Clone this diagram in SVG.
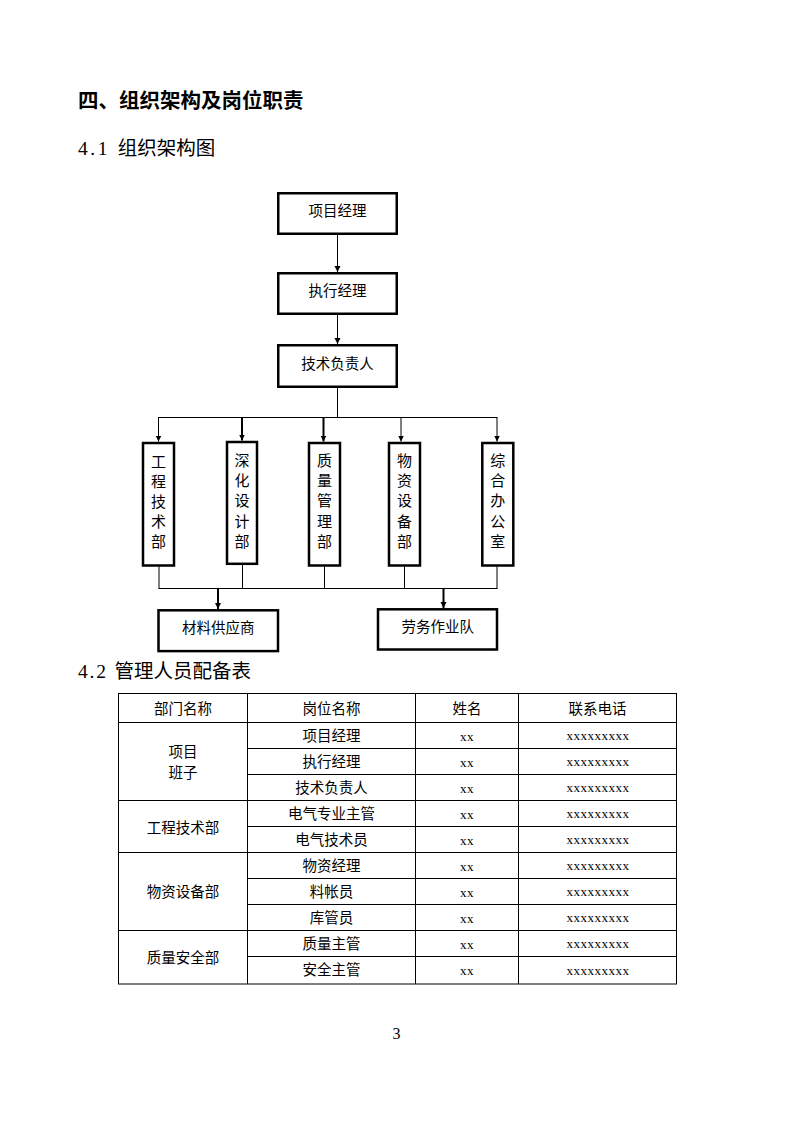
<svg xmlns="http://www.w3.org/2000/svg" width="794" height="1123" viewBox="0 0 794 1123">
<defs>
<marker id="ah" markerUnits="userSpaceOnUse" markerWidth="7" markerHeight="7" refX="6" refY="3" orient="auto">
<path d="M0,0 L6,3 L0,6 z" fill="#000"/>
</marker>
<style>
.cjk{font-family:"Noto Sans CJK SC","Noto Sans",sans-serif;fill:#000}
.h1{font-size:20.5px;font-weight:bold}
.h2{font-size:19.5px;font-family:"Liberation Serif","Noto Sans CJK SC",serif}
.box{fill:#fff;stroke:#000;stroke-width:2.5}
.nt{font-size:14.5px;text-anchor:middle}
.vt{font-size:15px;text-anchor:middle}
.ln{fill:none;stroke:#000;stroke-width:1}
.thk{stroke-width:2}
.tl{fill:none;stroke:#000;stroke-width:1}
.tt{font-size:14.5px;text-anchor:middle}
.xx{font-family:"Liberation Serif",serif;font-size:13px;letter-spacing:0.5px;text-anchor:middle;fill:#000}
.pg{font-family:"Liberation Serif",serif;font-size:16px;text-anchor:middle;fill:#000}
</style>
</defs>
<rect width="794" height="1123" fill="#fff"/>

<g id="headings">
<text class="cjk h1" x="78" y="107.5">四、组织架构及岗位职责</text>
<text class="cjk h2" x="78" y="155"><tspan letter-spacing="2.6">4.1 </tspan>组织架构图</text>
<text class="cjk h2" x="78" y="678"><tspan letter-spacing="1.8">4.2 </tspan>管理人员配备表</text>
</g>

<g id="connectors">
<path class="ln" d="M337.5,235 V272" marker-end="url(#ah)"/>
<path class="ln" d="M337.5,315 V344" marker-end="url(#ah)"/>
<path class="ln" d="M337.5,388 V417.5"/>
<path class="ln" d="M158,417.5 H497.5"/>
<path class="ln" d="M158.5,417.5 V441.5" marker-end="url(#ah)"/>
<path class="ln thk" d="M242,417.5 V440.5" marker-end="url(#ah)"/>
<path class="ln thk" d="M323.5,417.5 V441.5" marker-end="url(#ah)"/>
<path class="ln" d="M401,417.5 V441.5" marker-end="url(#ah)"/>
<path class="ln" d="M497,417.5 V441.5" marker-end="url(#ah)"/>
<path class="ln" d="M159,566.5 V588.5 M242.5,565 V588.5 M324.5,566.5 V588.5 M404.5,566.5 V588.5 M497,566.5 V588.5"/>
<path class="ln" d="M158.5,588.5 H497.5"/>
<path class="ln thk" d="M218,588.5 V609" marker-end="url(#ah)"/>
<path class="ln thk" d="M443.5,588.5 V608" marker-end="url(#ah)"/>
</g>

<g id="n-pm">
<rect class="box" x="278.25" y="193.25" width="118.5" height="40.5"/>
<text class="cjk nt" x="337.5" y="216">项目经理</text>
</g>
<g id="n-exec">
<rect class="box" x="278.25" y="273.25" width="118.5" height="40.5"/>
<text class="cjk nt" x="337.5" y="296">执行经理</text>
</g>
<g id="n-tech">
<rect class="box" x="278.25" y="345.25" width="118.5" height="41.5"/>
<text class="cjk nt" x="337.5" y="368.5">技术负责人</text>
</g>

<g id="n-eng">
<rect class="box" x="143" y="443" width="31" height="122.5"/>
<text class="cjk vt"><tspan x="158.5" y="466.5">工</tspan><tspan x="158.5" y="486.5">程</tspan><tspan x="158.5" y="506.5">技</tspan><tspan x="158.5" y="526.5">术</tspan><tspan x="158.5" y="546.5">部</tspan></text>
</g>
<g id="n-design">
<rect class="box" x="227" y="442" width="30" height="121.8"/>
<text class="cjk vt"><tspan x="242" y="465.5">深</tspan><tspan x="242" y="485.5">化</tspan><tspan x="242" y="505.5">设</tspan><tspan x="242" y="526.5">计</tspan><tspan x="242" y="546.5">部</tspan></text>
</g>
<g id="n-quality">
<rect class="box" x="309" y="443" width="31" height="122.5"/>
<text class="cjk vt"><tspan x="324.5" y="465.5">质</tspan><tspan x="324.5" y="486">量</tspan><tspan x="324.5" y="506">管</tspan><tspan x="324.5" y="526.5">理</tspan><tspan x="324.5" y="546.5">部</tspan></text>
</g>
<g id="n-material">
<rect class="box" x="389" y="443" width="31" height="122.5"/>
<text class="cjk vt"><tspan x="404.5" y="465.5">物</tspan><tspan x="404.5" y="486">资</tspan><tspan x="404.5" y="506">设</tspan><tspan x="404.5" y="526.5">备</tspan><tspan x="404.5" y="546.5">部</tspan></text>
</g>
<g id="n-office">
<rect class="box" x="482.3" y="443" width="31" height="122.5"/>
<text class="cjk vt"><tspan x="497.8" y="465.5">综</tspan><tspan x="497.8" y="486">合</tspan><tspan x="497.8" y="506">办</tspan><tspan x="497.8" y="526.5">公</tspan><tspan x="497.8" y="546.5">室</tspan></text>
</g>

<g id="n-supplier">
<rect class="box" x="158.5" y="610.3" width="119.5" height="40.8"/>
<text class="cjk nt" x="218.3" y="633">材料供应商</text>
</g>
<g id="n-labor">
<rect class="box" x="378" y="609.3" width="119" height="40.2"/>
<text class="cjk nt" x="437.7" y="632">劳务作业队</text>
</g>

<g id="table">
<rect class="tl" x="118.5" y="693.5" width="558" height="290.5"/>
<path class="tl" d="M247.5,693.5 V984 M518.5,693.5 V984"/>
<path class="tl" d="M415.5,693.5 V984" stroke-width="2"/>
<path class="tl" d="M118.5,722.5 H676.5 M118.5,800.5 H676.5 M118.5,852.5 H676.5 M118.5,930.5 H676.5"/>
<path class="tl" d="M247.5,748.5 H676.5 M247.5,774.5 H676.5 M247.5,826.5 H676.5 M247.5,878.5 H676.5 M247.5,904.5 H676.5 M247.5,956.5 H676.5"/>

<text class="cjk tt" x="183" y="713.5">部门名称</text>
<text class="cjk tt" x="331.5" y="713.5">岗位名称</text>
<text class="cjk tt" x="467" y="713.5">姓名</text>
<text class="cjk tt" x="597.5" y="713.5">联系电话</text>

<text class="cjk tt" x="183" y="757">项目</text>
<text class="cjk tt" x="183" y="777.5">班子</text>
<text class="cjk tt" x="183" y="833">工程技术部</text>
<text class="cjk tt" x="183" y="897">物资设备部</text>
<text class="cjk tt" x="183" y="962.5">质量安全部</text>

<text class="cjk tt" x="331.5" y="740.5">项目经理</text>
<text class="cjk tt" x="331.5" y="766.5">执行经理</text>
<text class="cjk tt" x="331.5" y="792.5">技术负责人</text>
<text class="cjk tt" x="331.5" y="818.5">电气专业主管</text>
<text class="cjk tt" x="331.5" y="844.5">电气技术员</text>
<text class="cjk tt" x="331.5" y="870.5">物资经理</text>
<text class="cjk tt" x="331.5" y="896.5">料帐员</text>
<text class="cjk tt" x="331.5" y="922.5">库管员</text>
<text class="cjk tt" x="331.5" y="948.5">质量主管</text>
<text class="cjk tt" x="331.5" y="975">安全主管</text>

<text class="xx" x="467" y="740.5">xx</text>
<text class="xx" x="467" y="766.5">xx</text>
<text class="xx" x="467" y="792.5">xx</text>
<text class="xx" x="467" y="818.5">xx</text>
<text class="xx" x="467" y="844.5">xx</text>
<text class="xx" x="467" y="870.5">xx</text>
<text class="xx" x="467" y="896.5">xx</text>
<text class="xx" x="467" y="922.5">xx</text>
<text class="xx" x="467" y="948.5">xx</text>
<text class="xx" x="467" y="975">xx</text>

<text class="xx" x="598" y="740">xxxxxxxxx</text>
<text class="xx" x="598" y="766">xxxxxxxxx</text>
<text class="xx" x="598" y="792">xxxxxxxxx</text>
<text class="xx" x="598" y="818">xxxxxxxxx</text>
<text class="xx" x="598" y="844">xxxxxxxxx</text>
<text class="xx" x="598" y="870">xxxxxxxxx</text>
<text class="xx" x="598" y="896">xxxxxxxxx</text>
<text class="xx" x="598" y="922">xxxxxxxxx</text>
<text class="xx" x="598" y="948">xxxxxxxxx</text>
<text class="xx" x="598" y="974.5">xxxxxxxxx</text>
</g>

<text class="pg" x="396.5" y="1039">3</text>
</svg>
